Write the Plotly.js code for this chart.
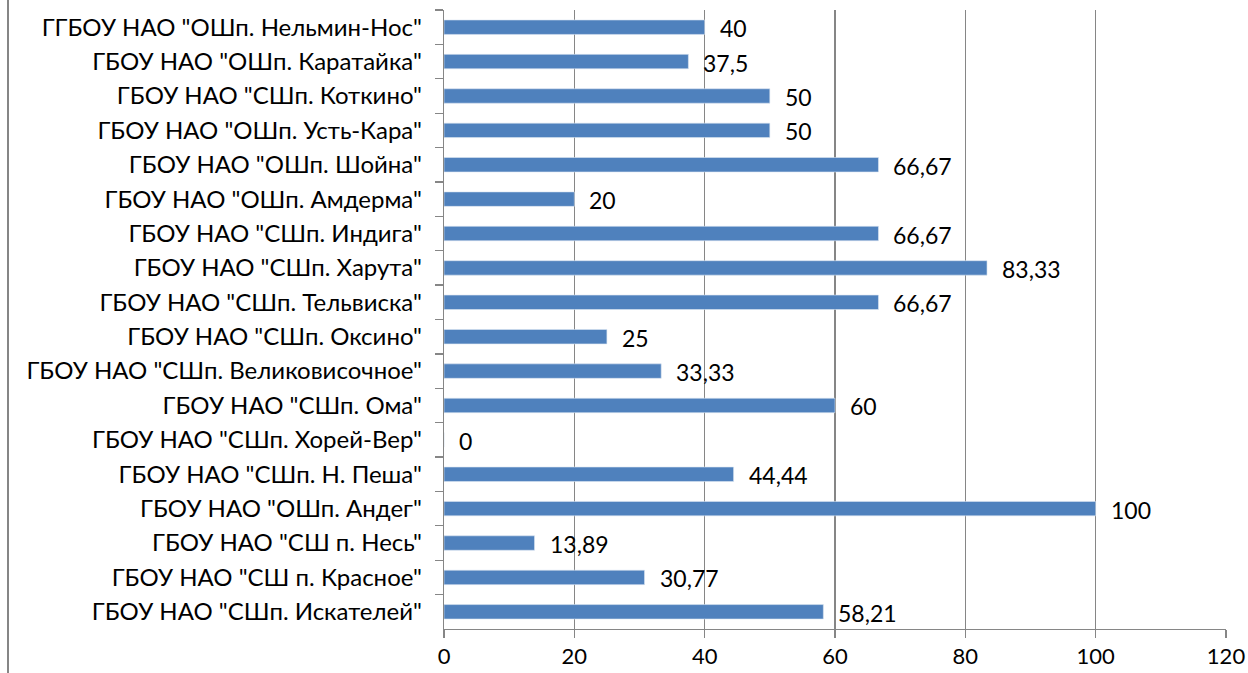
<!DOCTYPE html>
<html>
<head>
<meta charset="utf-8">
<script src="https://cdn.plot.ly/plotly-3.0.1.min.js"></script>
<style>html,body{margin:0;padding:0;background:#fff;}#chart{width:1248px;height:673px;}</style>
</head>
<body>
<div id="chart"></div>
<script>
// Categories listed top to bottom
const schools = [
  'ГГБОУ НАО "ОШп. Нельмин-Нос"',
  'ГБОУ НАО "ОШп. Каратайка"',
  'ГБОУ НАО "СШп. Коткино"',
  'ГБОУ НАО "ОШп. Усть-Кара"',
  'ГБОУ НАО "ОШп. Шойна"',
  'ГБОУ НАО "ОШп. Амдерма"',
  'ГБОУ НАО "СШп. Индига"',
  'ГБОУ НАО "СШп. Харута"',
  'ГБОУ НАО "СШп. Тельвиска"',
  'ГБОУ НАО "СШп. Оксино"',
  'ГБОУ НАО "СШп. Великовисочное"',
  'ГБОУ НАО "СШп. Ома"',
  'ГБОУ НАО "СШп. Хорей-Вер"',
  'ГБОУ НАО "СШп. Н. Пеша"',
  'ГБОУ НАО "ОШп. Андег"',
  'ГБОУ НАО "СШ п. Несь"',
  'ГБОУ НАО "СШ п. Красное"',
  'ГБОУ НАО "СШп. Искателей"'
];
const values = [40, 37.5, 50, 50, 66.67, 20, 66.67, 83.33, 66.67, 25, 33.33, 60, 0, 44.44, 100, 13.89, 30.77, 58.21];
const xTicks = [0, 20, 40, 60, 80, 100, 120];

const fmt = v => String(v).replace('.', ',');
const FONT = 'Lato, "Open Sans", sans-serif';

const trace = {
  type: 'bar',
  orientation: 'h',
  x: values,
  y: schools,
  width: 0.42,
  marker: {color: '#4F81BD', line: {color: '#DCE6F2', width: 0.6}},
  hoverinfo: 'x+y'
};

const annotations = values.map((v, i) => ({
  x: v, y: schools[i], xref: 'x', yref: 'y',
  text: fmt(v), showarrow: false, xanchor: 'left', yanchor: 'middle',
  xshift: 13, yshift: -1,
  font: {family: FONT, size: 23, color: '#000'}
}));

const layout = {
  width: 1248, height: 673,
  margin: {l: 444, r: 22, t: 10, b: 44, pad: 0},
  paper_bgcolor: '#fff', plot_bgcolor: '#fff',
  showlegend: false,
  bargap: 0,
  font: {family: FONT, size: 23, color: '#000'},
  xaxis: {
    range: [0, 120], tickvals: xTicks, ticktext: xTicks.map(String),
    showgrid: true, gridcolor: '#868686', gridwidth: 1.3,
    zeroline: false, showline: true, linecolor: '#868686', linewidth: 1.3,
    ticks: 'outside', ticklen: 8, tickcolor: '#868686', tickwidth: 1.3,
    tickfont: {size: 22, color: '#000'}, ticklabelstandoff: -1,
    fixedrange: true
  },
  yaxis: {
    type: 'category', autorange: 'reversed',
    showgrid: false, zeroline: false, showline: true, linecolor: '#868686', linewidth: 1.3,
    ticks: 'outside', ticklen: 8, tickcolor: '#868686', tickwidth: 1.3,
    tickson: 'boundaries',
    tickfont: {size: 24, color: '#000'}, ticklabelstandoff: 16,
    fixedrange: true
  },
  annotations: annotations,
  shapes: [{
    type: 'line', xref: 'paper', yref: 'paper',
    x0: -436/782, x1: -436/782, y0: -2, y1: 2,
    line: {color: '#868686', width: 2}
  }]
};

Plotly.newPlot('chart', [trace], layout, {displayModeBar: false, staticPlot: true});
</script>
</body>
</html>
